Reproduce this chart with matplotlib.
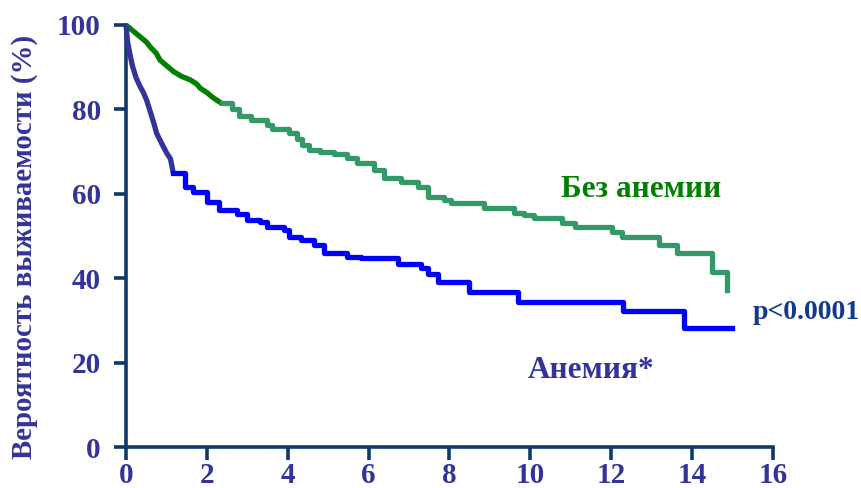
import numpy as np
from matplotlib import pyplot as plt

# Kaplan-Meier curves, survival (%) vs time
# "Без анемии" (no anemia): early part dark green (smooth), later part lighter green (steps)
green_early_t = [0, 0.15, 0.35, 0.5, 0.6, 0.75, 0.84, 1.0, 1.17, 1.38, 1.59, 1.75, 1.84, 2.0, 2.15, 2.37]
green_early_s = [100, 98.8, 97.2, 96, 94.8, 93.3, 91.7, 90.4, 89, 87.8, 87, 86, 85, 84, 82.8, 81.4]
green_late_t = [2.37, 2.62, 2.79, 3.08, 3.49, 3.62, 4.03, 4.23, 4.36, 4.52, 4.8, 5.14, 5.47, 5.72,
                6.14, 6.38, 6.8, 7.21, 7.46, 7.87, 8.04, 8.86, 9.6, 9.85, 10.1, 10.77, 11.1, 12.01,
                12.26, 13.17, 13.62, 14.49, 14.86]
green_late_s = [81.4, 80.2, 78.4, 77.5, 76.3, 75.3, 74.3, 73.1, 71.6, 70.4, 70.0, 69.4, 68.4, 67.2,
                65.6, 63.7, 62.9, 61.7, 59.3, 58.5, 57.8, 56.6, 55.4, 55, 54.2, 53, 52.2, 51,
                49.8, 47.9, 45.9, 41.5, 37.2]

# "Анемия" (anemia): early part dark slate blue (smooth), later part pure blue (steps)
blue_early_t = [0, 0.04, 0.1, 0.16, 0.25, 0.35, 0.43, 0.51, 0.6, 0.68, 0.76, 0.88, 1.01, 1.1, 1.17]
blue_early_s = [100, 96, 93, 90.3, 87.5, 85.4, 84, 82.2, 79.5, 77, 74.3, 72, 69.6, 68.3, 64.9]
blue_late_t = [1.17, 1.46, 1.67, 2.0, 2.29, 2.74, 2.99, 3.32, 3.49, 3.9, 4.03, 4.32, 4.65, 4.89,
               5.47, 5.81, 6.72, 7.3, 7.46, 7.71, 8.49, 9.69, 12.3, 13.79, 14.99]
blue_late_s = [64.9, 61.7, 60.5, 58.1, 56.2, 55.2, 53.8, 53.4, 52.2, 51.4, 49.8, 49.1, 47.9, 45.9,
               45.0, 44.7, 43.4, 42.3, 41.1, 39, 36.8, 34.4, 32.2, 28.1, 28.1]

x_ticks = [0, 2, 4, 6, 8, 10, 12, 14, 16]
y_ticks = [0, 20, 40, 60, 80, 100]

plt.rcParams['font.family'] = ['Liberation Serif', 'DejaVu Serif']
plt.rcParams['font.weight'] = 'bold'

axis_col = '#0d3a6a'
label_col = '#333399'
lw = 3.8

fig = plt.figure(figsize=(8.61, 4.88), dpi=100)
ax = fig.add_axes([0.1463, 0.0840, 0.7515, 0.8648])

ax.plot(green_early_t, green_early_s, color='#008000', lw=lw, clip_on=False, zorder=3,
        solid_capstyle='butt')
ax.plot(green_late_t, green_late_s, drawstyle='steps-post', color='#339966', lw=lw,
        clip_on=False, zorder=3)
ax.plot(blue_early_t, blue_early_s, color='#333399', lw=lw, clip_on=False, zorder=3,
        solid_capstyle='butt')
ax.plot(blue_late_t, blue_late_s, drawstyle='steps-post', color='#0000ff', lw=lw,
        clip_on=False, zorder=3)

ax.set_xlim(0, 16)
ax.set_ylim(0, 100)
ax.set_xticks(x_ticks)
ax.set_yticks(y_ticks)
for sp in ['top', 'right']:
    ax.spines[sp].set_visible(False)
for sp in ['left', 'bottom']:
    ax.spines[sp].set_color(axis_col)
    ax.spines[sp].set_linewidth(2.6)
ax.tick_params(axis='both', direction='out', length=9, width=2.6, color=axis_col,
               labelcolor=label_col, labelsize=21)
ax.tick_params(axis='x', pad=1.5)
ax.tick_params(axis='y', pad=9)

# y label placed on the figure so it sits like in the reference
fig.text(25 / 861, 1 - 247 / 488, 'Вероятность выживаемости (%)', color=label_col,
         fontsize=20.75, fontweight='bold', rotation=90, ha='center', va='center')

ax.text(12.73, 60.9, 'Без анемии', color='#008000', fontsize=22.5, fontweight='bold',
        ha='center', va='center')
ax.text(15.5, 31.9, 'p<0.0001', color='#123a8c', fontsize=20, fontweight='bold',
        ha='left', va='center', clip_on=False)
ax.text(11.5, 18.2, 'Анемия*', color='#333399', fontsize=22.5, fontweight='bold',
        ha='center', va='center')

plt.savefig('out.png', dpi=100)
